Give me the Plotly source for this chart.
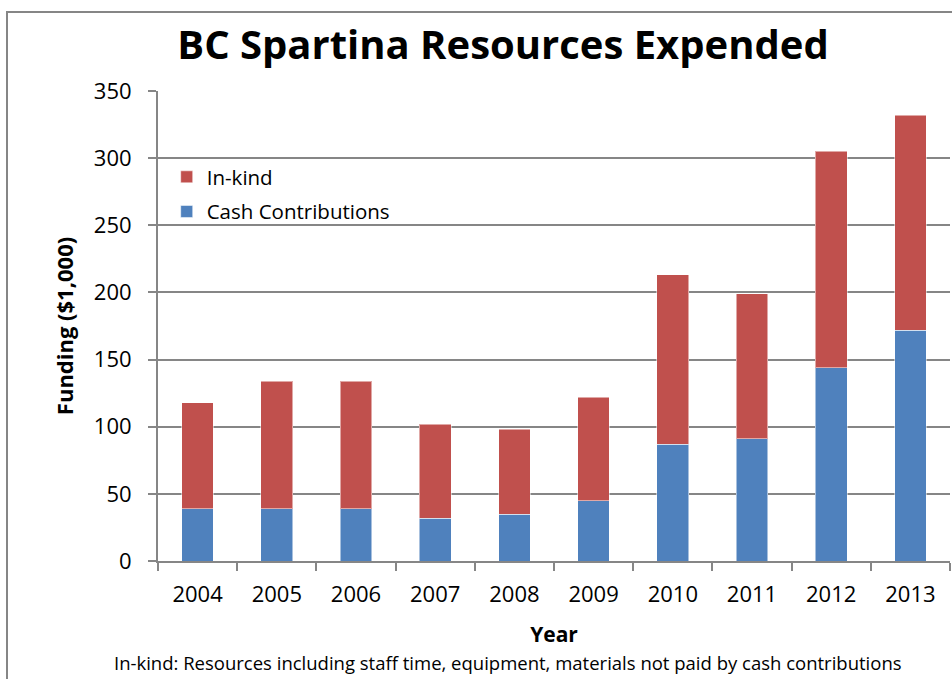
import plotly.graph_objects as go

years = ['2004', '2005', '2006', '2007', '2008', '2009', '2010', '2011', '2012', '2013']
cash = [39, 39, 39, 32, 35, 45, 87, 91, 144, 172]
in_kind = [79, 95, 95, 70, 63, 77, 126, 108, 161, 160]

red = '#C0504D'
blue = '#4F81BD'
grey = '#868686'
font = 'Open Sans'

fig = go.Figure()
fig.add_trace(go.Bar(x=years, y=cash, name='Cash Contributions', legendgroup='cash', legendrank=2,
                     marker=dict(color=blue, line=dict(color='rgba(255,255,255,0.5)', width=1))))
fig.add_trace(go.Bar(x=years, y=in_kind, name='In-kind', legendgroup='inkind', legendrank=1,
                     marker=dict(color=red, line=dict(color='rgba(255,255,255,0.5)', width=1))))

# plot area in pixels: x 158..950, y 91..561
L, R, T, B = 158, 2, 91, 118
pw, ph = 952 - L - R, 679 - T - B


def px(x):
    return (x - L) / pw


def py(y):
    return (679 - B - y) / ph


fig.update_layout(
    barmode='stack',
    bargap=0.6,
    width=952, height=679,
    margin=dict(l=L, r=R, t=T, b=B),
    plot_bgcolor='white', paper_bgcolor='white',
    font=dict(family=font, color='black', size=20),
    showlegend=True,
    legend=dict(x=0.011, y=py(157), xanchor='left', yanchor='top', traceorder='grouped',
                font=dict(size=20.5), bgcolor='rgba(0,0,0,0)', itemwidth=30, tracegroupgap=5),
    title=dict(text='<b>BC Spartina Resources Expended</b>', xref='container', x=503 / 952,
               xanchor='center', y=1 - 45 / 679, yanchor='middle', font=dict(size=40)),
)

fig.update_xaxes(
    showline=True, linecolor=grey, linewidth=2,
    ticks='outside', tickson='boundaries', ticklen=8, tickcolor=grey, tickwidth=2,
    tickfont=dict(size=22), ticklabelstandoff=13,
    title=dict(text='<b>Year</b>', font=dict(size=21), standoff=20),
)
fig.update_yaxes(
    range=[0, 350], dtick=50,
    showgrid=True, gridcolor=grey, gridwidth=2,
    showline=True, linecolor=grey, linewidth=2,
    ticks='outside', ticklen=8, tickcolor=grey, tickwidth=2,
    tickfont=dict(size=22), ticklabelstandoff=12,
    title=dict(text='<b>Funding ($1,000)</b>', font=dict(size=22), standoff=14),
    zeroline=False,
)

fig.add_annotation(text='In-kind: Resources including staff time, equipment, materials not paid by cash contributions',
                   xref='paper', yref='paper', x=px(508), y=py(662), showarrow=False,
                   font=dict(size=18.5), xanchor='center', yanchor='middle')

# outer frame
fig.add_shape(type='rect', xref='paper', yref='paper',
              x0=px(7), x1=px(1000), y0=py(700), y1=py(12),
              line=dict(color=grey, width=2), layer='below')

fig.write_html('out.html', config={'displayModeBar': False},
               post_script="document.body.style.margin = '0';")
